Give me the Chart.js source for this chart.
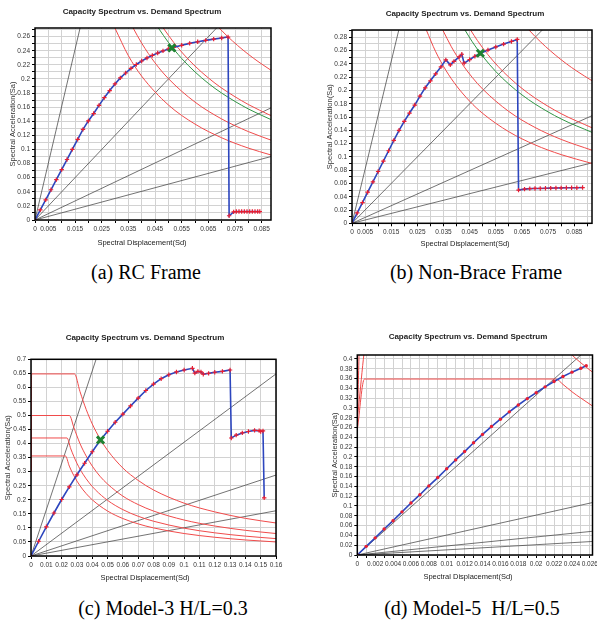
<!DOCTYPE html>
<html>
<head>
<meta charset="utf-8">
<script src="https://cdn.jsdelivr.net/npm/chart.js@4.4.1/dist/chart.umd.min.js"></script>
<style>
html, body { margin: 0; padding: 0; background: #fff; overflow: hidden; }
#page { position: relative; width: 597px; height: 624px; overflow: hidden; }
.box { position: absolute; }
.cap { position: absolute; width: 300px; text-align: center; white-space: pre; line-height: 24px;
       font-family: "Liberation Serif", "Times New Roman", serif; font-size: 20px; color: #000; }
</style>
</head>
<body>
<div id="page">
  <div class="box" style="left:0;top:0;width:292px;height:256px"><canvas id="chartA"></canvas></div>
  <div class="box" style="left:317px;top:0;width:283px;height:256px"><canvas id="chartB"></canvas></div>
  <div class="box" style="left:0;top:320px;width:292px;height:272px"><canvas id="chartC"></canvas></div>
  <div class="box" style="left:322px;top:320px;width:278px;height:272px"><canvas id="chartD"></canvas></div>
  <div class="cap" style="left:-4px;top:260px">(a) RC Frame</div>
  <div class="cap" style="left:326px;top:260px">(b) Non-Brace Frame</div>
  <div class="cap" style="left:13px;top:596px">(c) Model-3 H/L=0.3</div>
  <div class="cap" style="left:322px;top:596px">(d) Model-5  H/L=0.5</div>
</div>
<script>
// ---------- (a) RC Frame ----------
var aCapSd = [0, 0.002, 0.004, 0.006, 0.008, 0.010, 0.012, 0.014, 0.016, 0.018, 0.020, 0.022, 0.024, 0.026, 0.028,
  0.030, 0.032, 0.034, 0.036, 0.038, 0.040, 0.042, 0.044, 0.046, 0.048, 0.050, 0.052, 0.055, 0.058, 0.061, 0.064,
  0.067, 0.070, 0.0724, 0.0728, 0.0745, 0.0755, 0.0765, 0.0775, 0.0785, 0.0795, 0.0805, 0.0815, 0.0825, 0.0835, 0.0843];
var aCapSa = [0, 0.0143, 0.0286, 0.0429, 0.0572, 0.0715, 0.0858, 0.1001, 0.1144, 0.1285, 0.1405, 0.151, 0.1625, 0.1735, 0.1835,
  0.193, 0.2015, 0.2085, 0.215, 0.2205, 0.2255, 0.2298, 0.2335, 0.2368, 0.2398, 0.2425, 0.2448, 0.2478, 0.2505, 0.2527, 0.2548,
  0.2565, 0.2582, 0.2595, 0.006, 0.0115, 0.012, 0.012, 0.012, 0.012, 0.012, 0.012, 0.012, 0.012, 0.012, 0.012];
var aRedSd = [
  [0.030, 0.035, 0.040, 0.050, 0.060, 0.070, 0.080, 0.0885],
  [0.0368, 0.040, 0.045, 0.050, 0.060, 0.070, 0.080, 0.0885],
  [0.0481, 0.052, 0.056, 0.060, 0.065, 0.070, 0.080, 0.0885],
  [0.069, 0.072, 0.076, 0.080, 0.084, 0.0885]
];
var aRedSa = [
  [0.272, 0.2331, 0.204, 0.1632, 0.136, 0.1166, 0.102, 0.0922],
  [0.2723, 0.2508, 0.2229, 0.2006, 0.1672, 0.1433, 0.1254, 0.1133],
  [0.2723, 0.2519, 0.2339, 0.2183, 0.2015, 0.1871, 0.1638, 0.148],
  [0.2725, 0.2611, 0.2474, 0.235, 0.2238, 0.2124]
];
var aGreenSd = [0.0463, 0.050, 0.055, 0.060, 0.065, 0.070, 0.080, 0.0885];
var aGreenSa = [0.2721, 0.252, 0.2291, 0.21, 0.1938, 0.18, 0.1575, 0.1424];
var aPeriodSd = [0.0169, 0.0681, 0.0885, 0.0885];
var aPeriodSa = [0.2723, 0.2723, 0.159, 0.090];
var aStar = [0.0513, 0.244];

// ---------- (b) Non-Brace Frame ----------
var bCapSd = [0, 0.002, 0.004, 0.006, 0.008, 0.010, 0.012, 0.014, 0.016, 0.018, 0.020, 0.022, 0.024, 0.026, 0.028,
  0.030, 0.032, 0.034, 0.0359, 0.0376, 0.039, 0.041, 0.042, 0.0429, 0.045, 0.047, 0.049, 0.052, 0.055, 0.058, 0.061,
  0.0632, 0.0637, 0.066, 0.068, 0.070, 0.072, 0.074, 0.076, 0.078, 0.080, 0.082, 0.084, 0.086, 0.0882];
var bCapSa = [0, 0.0156, 0.0312, 0.0468, 0.0624, 0.078, 0.0936, 0.1092, 0.1248, 0.140, 0.1535, 0.166, 0.178, 0.1915, 0.204,
  0.2145, 0.225, 0.2355, 0.246, 0.2385, 0.2438, 0.2505, 0.2545, 0.241, 0.2465, 0.2515, 0.2555, 0.2608, 0.2655, 0.2698, 0.2738,
  0.2768, 0.050, 0.0515, 0.0522, 0.0525, 0.0525, 0.0528, 0.053, 0.0532, 0.0533, 0.0535, 0.0535, 0.0536, 0.0538];
var bRedSd = [
  [0.0284, 0.032, 0.036, 0.040, 0.045, 0.050, 0.060, 0.070, 0.080, 0.0918],
  [0.0347, 0.038, 0.042, 0.046, 0.050, 0.060, 0.070, 0.080, 0.0918],
  [0.0454, 0.048, 0.052, 0.056, 0.060, 0.065, 0.070, 0.080, 0.0918],
  [0.0677, 0.070, 0.074, 0.078, 0.082, 0.086, 0.0918]
];
var bRedSa = [
  [0.2912, 0.2584, 0.2297, 0.2068, 0.1838, 0.1654, 0.1378, 0.1181, 0.1034, 0.0901],
  [0.2911, 0.2658, 0.2405, 0.2196, 0.202, 0.1683, 0.1443, 0.1263, 0.110],
  [0.2907, 0.275, 0.2538, 0.2357, 0.22, 0.2031, 0.1886, 0.165, 0.1438],
  [0.291, 0.2814, 0.2662, 0.2526, 0.2402, 0.2291, 0.2146]
];
var bGreenSd = [0.0432, 0.046, 0.050, 0.055, 0.060, 0.065, 0.070, 0.080, 0.0918];
var bGreenSa = [0.291, 0.2733, 0.2514, 0.2285, 0.2095, 0.1934, 0.1796, 0.1571, 0.1369];
var bPeriodSd = [0.0179, 0.0728, 0.0918, 0.0918];
var bPeriodSa = [0.291, 0.291, 0.162, 0.091];
var bStar = [0.0491, 0.256];

// ---------- (c) Model-3 H/L=0.3 ----------
var cCapSd = [0, 0.005, 0.010, 0.015, 0.020, 0.025, 0.030, 0.035, 0.040, 0.045, 0.050, 0.055, 0.060, 0.065, 0.070,
  0.075, 0.080, 0.085, 0.090, 0.095, 0.100, 0.1054, 0.107, 0.109, 0.111, 0.1125, 0.116, 0.120, 0.125, 0.130, 0.1308,
  0.134, 0.138, 0.142, 0.146, 0.149, 0.150, 0.1515, 0.1523];
var cCapSa = [0, 0.0525, 0.104, 0.153, 0.201, 0.246, 0.289, 0.330, 0.371, 0.410, 0.444, 0.476, 0.505, 0.534, 0.562,
  0.589, 0.612, 0.631, 0.645, 0.655, 0.662, 0.668, 0.651, 0.657, 0.655, 0.647, 0.650, 0.654, 0.657, 0.662, 0.420,
  0.430, 0.438, 0.443, 0.447, 0.446, 0.443, 0.445, 0.207];
var cRedSd = [
  [0, 0.0004, 0.0284, 0.032, 0.036, 0.040, 0.045, 0.050, 0.060, 0.070, 0.080, 0.100, 0.120, 0.140, 0.160],
  [0, 0.0004, 0.0251, 0.028, 0.032, 0.036, 0.040, 0.045, 0.050, 0.060, 0.070, 0.080, 0.100, 0.120, 0.140, 0.160],
  [0, 0.0004, 0.0235, 0.026, 0.030, 0.034, 0.038, 0.042, 0.050, 0.060, 0.070, 0.080, 0.100, 0.120, 0.140, 0.160],
  [0, 0.0004, 0.0225, 0.025, 0.028, 0.032, 0.036, 0.040, 0.050, 0.060, 0.070, 0.080, 0.100, 0.120, 0.140, 0.160]
];
var cRedSa = [
  [0.30, 0.648, 0.648, 0.585, 0.522, 0.47, 0.418, 0.376, 0.313, 0.269, 0.235, 0.188, 0.157, 0.134, 0.1175],
  [0.30, 0.50, 0.50, 0.457, 0.40, 0.356, 0.32, 0.284, 0.256, 0.213, 0.183, 0.16, 0.128, 0.1067, 0.0914, 0.080],
  [0.30, 0.42, 0.42, 0.381, 0.33, 0.291, 0.2605, 0.2357, 0.198, 0.165, 0.1414, 0.1238, 0.099, 0.0825, 0.0707, 0.0619],
  [0.30, 0.356, 0.356, 0.32, 0.2857, 0.25, 0.2222, 0.20, 0.16, 0.1333, 0.1143, 0.10, 0.08, 0.0667, 0.0571, 0.05]
];
var cPeriodSd = [0.0425, 0.16, 0.16, 0.16];
var cPeriodSa = [0.7, 0.648, 0.288, 0.161];
var cStar = [0.0454, 0.413];

// ---------- (d) Model-5 H/L=0.5 ----------
var dCapSd = [0, 0.001, 0.002, 0.003, 0.004, 0.005, 0.006, 0.007, 0.008, 0.009, 0.010, 0.011, 0.012, 0.013, 0.014,
  0.015, 0.016, 0.017, 0.018, 0.019, 0.020, 0.021, 0.022, 0.023, 0.024, 0.025, 0.0256];
var dCapSa = [0, 0.0176, 0.035, 0.053, 0.070, 0.088, 0.106, 0.123, 0.141, 0.158, 0.176, 0.194, 0.211, 0.229, 0.246,
  0.262, 0.277, 0.292, 0.306, 0.319, 0.331, 0.343, 0.354, 0.364, 0.373, 0.381, 0.386];
var dRedSd = [
  [0, 0.0008, 0.0222, 0.023, 0.024, 0.025, 0.0263],
  [0, 0.0012, 0.0218, 0.024, 0.025, 0.0263],
  [0, 0.0004, 0.020]
];
var dRedSa = [
  [0.255, 0.359, 0.359, 0.348, 0.333, 0.320, 0.304],
  [0.28, 0.45, 0.45, 0.408, 0.392, 0.373],
  [0.27, 0.50, 0.50]
];
var dPeriodSd = [0.0250, 0.0263, 0.0263, 0.0263];
var dPeriodSa = [0.408, 0.107, 0.0484, 0.0276];

var blue = 'rgb(45,70,190)';
var redMark = 'rgb(232,30,50)';
var redLine = 'rgb(240,75,75)';
var greenLine = 'rgb(50,150,70)';
var greyLine = 'rgba(60,60,60,0.9)';
var gridColor = '#d2d2d2';
var sans = '"Liberation Sans", Arial, sans-serif';

function pts(xs, ys) {
  var out = [];
  for (var i = 0; i < xs.length; i++) out.push({x: xs[i], y: ys[i]});
  return out;
}

function fmt(v) {
  return String(Number(v.toFixed(4)));
}

function datasets(capSd, capSa, redSd, redSa, greenSd, greenSa, periodSd, periodSa, star, dots) {
  var list = [];
  if (star) {
    list.push({data: [{x: star[0], y: star[1]}], pointStyle: 'crossRot', pointRadius: 5,
      pointBorderColor: 'rgb(30,130,50)', pointBorderWidth: 3});
  }
  list.push({
    data: pts(capSd, capSa), showLine: true, borderColor: blue, borderWidth: 1.6,
    pointStyle: dots ? 'circle' : 'cross', pointRadius: dots ? 1.7 : 2.2,
    pointBorderColor: redMark, pointBackgroundColor: redMark, pointBorderWidth: dots ? 0 : 1.2
  });
  if (greenSd) {
    list.push({data: pts(greenSd, greenSa), showLine: true, borderColor: greenLine, borderWidth: 1,
      pointRadius: 0, cubicInterpolationMode: 'monotone'});
  }
  for (var i = 0; i < redSd.length; i++) {
    list.push({data: pts(redSd[i], redSa[i]), showLine: true, borderColor: redLine, borderWidth: 1,
      pointRadius: 0, cubicInterpolationMode: 'monotone'});
  }
  for (var j = 0; j < periodSd.length; j++) {
    list.push({data: [{x: 0, y: 0}, {x: periodSd[j], y: periodSa[j]}], showLine: true,
      borderColor: greyLine, borderWidth: 0.8, pointRadius: 0});
  }
  return list;
}

var frame = {
  id: 'frame',
  afterDatasetsDraw: function(chart) {
    var a = chart.chartArea, ctx = chart.ctx;
    ctx.save();
    ctx.strokeStyle = '#000';
    ctx.lineWidth = 1.5;
    ctx.strokeRect(a.left, a.top, a.right - a.left, a.bottom - a.top);
    ctx.restore();
  }
};

var texts = {
  id: 'texts',
  afterDraw: function(chart, args, opts) {
    var ctx = chart.ctx;
    ctx.save();
    ctx.fillStyle = '#222';
    ctx.textAlign = 'center';
    ctx.textBaseline = 'middle';
    for (var i = 0; i < opts.items.length; i++) {
      var t = opts.items[i];
      ctx.font = t.font;
      ctx.fillText(t.text, t.x, t.y);
    }
    ctx.restore();
  }
};

function buildChart(id, o) {
  var tickFont = {family: sans, size: 6.5};
  return new Chart(document.getElementById(id), {
    type: 'scatter',
    data: {datasets: o.datasets},
    options: {
      responsive: true,
      maintainAspectRatio: false,
      animation: false,
      events: [],
      layout: {padding: {top: o.top, right: o.right, left: 0, bottom: 0}},
      plugins: {
        legend: {display: false},
        tooltip: {enabled: false},
        texts: {items: [
          {text: 'Capacity Spectrum vs. Demand Spectrum', x: o.cx, y: o.titleY, font: 'bold 8px ' + sans},
          {text: 'Spectral Displacement(Sd)', x: o.cx, y: o.xTitleY, font: '7.5px ' + sans}
        ]}
      },
      scales: {
        x: {
          type: 'linear', min: 0, max: o.xMax,
          afterFit: function(s) { s.height = o.xh; },
          border: {display: false},
          grid: {color: gridColor, tickColor: '#000', tickLength: 3},
          ticks: {stepSize: o.xStep, includeBounds: false, autoSkip: false, maxRotation: 0, maxTicksLimit: 1000,
            padding: 2, font: tickFont, color: '#333', callback: o.xLabel}
        },
        y: {
          type: 'linear', min: 0, max: o.yMax,
          afterFit: function(s) { s.width = o.yw; },
          border: {display: false},
          grid: {color: gridColor, tickColor: '#000', tickLength: 3},
          ticks: {stepSize: o.yStep, includeBounds: false, autoSkip: false, maxTicksLimit: 1000,
            padding: 2, font: tickFont, color: '#333', callback: o.yLabel},
          title: {display: true, text: 'Spectral Acceleration(Sa)', color: '#333',
            font: {family: sans, size: 7.5}, padding: {top: o.yTitlePad, bottom: 0}}
        }
      }
    },
    plugins: [frame, texts]
  });
}

function oddLabels(step) {
  return function(v) {
    var k = Math.round(v / step);
    return (k === 0 || k % 2 === 1) ? fmt(v) : '';
  };
}
function evenLabels(step) {
  return function(v) {
    return Math.round(v / step) % 2 === 0 ? fmt(v) : '';
  };
}
function allLabels(v) { return fmt(v); }

buildChart('chartA', {
  datasets: datasets(aCapSd, aCapSa, aRedSd, aRedSa, aGreenSd, aGreenSa, aPeriodSd, aPeriodSa, aStar, false),
  top: 28, right: 21, xh: 36, yw: 35, yTitlePad: 8.5,
  xMax: 0.0885, xStep: 0.005, xLabel: oddLabels(0.005),
  yMax: 0.2723, yStep: 0.01, yLabel: evenLabels(0.01),
  cx: 142, titleY: 12, xTitleY: 243
});

buildChart('chartB', {
  datasets: datasets(bCapSd, bCapSa, bRedSd, bRedSa, bGreenSd, bGreenSa, bPeriodSd, bPeriodSa, bStar, false),
  top: 30, right: 3, xh: 32.7, yw: 35, yTitlePad: 8.5,
  xMax: 0.0918, xStep: 0.005, xLabel: oddLabels(0.005),
  yMax: 0.291, yStep: 0.01, yLabel: evenLabels(0.01),
  cx: 148, titleY: 14, xTitleY: 244
});

buildChart('chartC', {
  datasets: datasets(cCapSd, cCapSa, cRedSd, cRedSa, null, null, cPeriodSd, cPeriodSa, cStar, false),
  top: 39.3, right: 16, xh: 36, yw: 31, yTitlePad: 3.5,
  xMax: 0.16, xStep: 0.01, xLabel: allLabels,
  yMax: 0.7, yStep: 0.05, yLabel: allLabels,
  cx: 145, titleY: 18, xTitleY: 257.7
});

buildChart('chartD', {
  datasets: datasets(dCapSd, dCapSa, dRedSd, dRedSa, null, null, dPeriodSd, dPeriodSa, null, true),
  top: 35, right: 2, xh: 37, yw: 35.3, yTitlePad: 8.5,
  xMax: 0.0263, xStep: 0.001, xLabel: evenLabels(0.001),
  yMax: 0.408, yStep: 0.02, yLabel: allLabels,
  cx: 146, titleY: 16.7, xTitleY: 256.7
});
</script>
</body>
</html>
